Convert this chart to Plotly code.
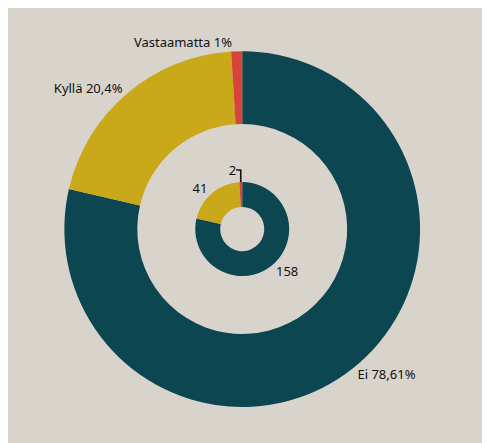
import plotly.graph_objects as go

labels = ["Ei", "Kyllä", "Vastaamatta"]
counts = [158, 41, 2]
pct_text = ["78,61%", "20,4%", "1%"]
colors = ["#0B4651", "#C9A81A", "#D9443A"]

fig = go.Figure()

# ulompi rengas: prosentit
fig.add_trace(go.Pie(
    labels=labels, values=counts, sort=False, direction="clockwise", rotation=0,
    hole=0.59, marker=dict(colors=colors),
    text=[f"{l} {p}" for l, p in zip(labels, pct_text)],
    textinfo="text", textposition="outside",
    textfont=dict(family="Noto Sans", size=13, color="#111"),
    domain=dict(x=[0.115, 0.841], y=[0.099, 0.903]),
    showlegend=False, hoverinfo="label+value",
))

# sisempi rengas: lukumäärät
fig.add_trace(go.Pie(
    labels=labels, values=counts, sort=False, direction="clockwise", rotation=0,
    hole=0.47, marker=dict(colors=colors),
    textinfo="value", textposition="outside",
    textfont=dict(family="Noto Sans", size=13, color="#111"),
    domain=dict(x=[0.382, 0.574], y=[0.395, 0.607]),
    showlegend=False, hoverinfo="label+value",
))

fig.update_layout(
    width=490, height=443,
    margin=dict(l=0, r=0, t=0, b=0),
    paper_bgcolor="#d8d3cb",
    plot_bgcolor="#d8d3cb",
)

fig.write_html("out.html")
